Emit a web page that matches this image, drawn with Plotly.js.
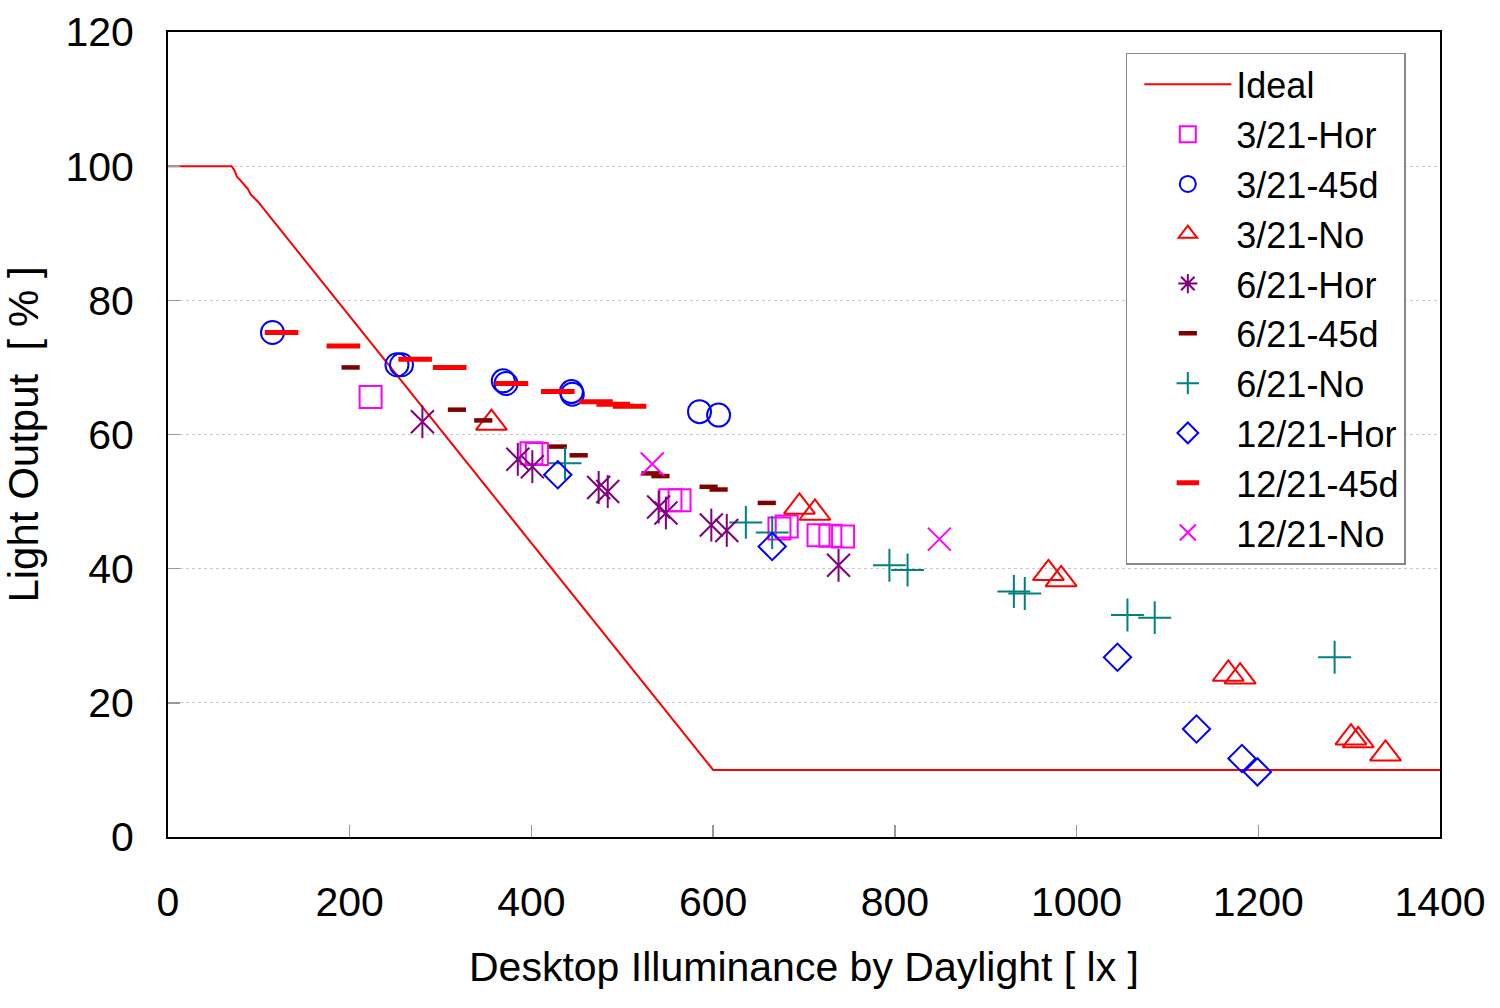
<!DOCTYPE html>
<html>
<head>
<meta charset="utf-8">
<script src="https://cdn.plot.ly/plotly-3.0.1.min.js"></script>
<style>html,body{margin:0;padding:0;background:#fff;}#chart{width:1500px;height:1008px;}</style>
</head>
<body>
<div id="chart"></div>
<script>
// ---- data ----
const idealX = [0, 70, 73, 76, 79, 84, 88, 91, 95, 99, 600, 1400];
const idealY = [100, 100, 99.4, 98.4, 98.0, 97.3, 96.6, 95.8, 95.2, 94.7, 10, 10];

const hor321X = [223, 400, 406, 553, 563, 673, 681, 716, 729, 743];
const hor321Y = [65.6, 57.2, 57.1, 50.2, 50.2, 46.0, 46.3, 45.0, 44.9, 44.8];

const d45_321X = [115, 252, 257, 369, 372, 444, 445, 585, 606];
const d45_321Y = [75.2, 70.4, 70.4, 68.0, 67.6, 66.4, 66.0, 63.4, 62.9];

const no321X = [356, 695, 712, 969, 983, 1167, 1180, 1302, 1310, 1340];
const no321Y = [61.7, 49.2, 48.3, 39.3, 38.4, 24.3, 23.9, 14.8, 14.4, 12.4];

const hor621X = [280, 385, 401, 474, 484, 540, 548, 598, 615, 738];
const hor621Y = [61.9, 56.3, 55.2, 52.1, 51.5, 49.2, 48.3, 46.5, 45.7, 40.5];

const d45_621X = [201, 318, 347, 429, 452, 531, 542, 595, 606, 659];
const d45_621Y = [70.0, 63.7, 62.1, 58.2, 56.9, 54.2, 53.8, 52.2, 51.8, 49.8];

const no621X = [437, 636, 665, 794, 814, 931, 943, 1056, 1086, 1284];
const no621Y = [55.7, 46.9, 45.4, 40.5, 39.8, 36.6, 36.3, 33.1, 32.7, 26.8];

const hor1221X = [429, 665, 1045, 1132, 1182, 1199];
const hor1221Y = [54.0, 43.3, 26.8, 16.1, 11.7, 9.7];

const d45_1221X = [125, 193, 272, 310, 378, 429, 471, 490, 508];
const d45_1221Y = [75.2, 73.2, 71.2, 70.0, 67.6, 66.4, 64.9, 64.5, 64.2];

const no1221X = [533, 849];
const no1221Y = [55.6, 44.4];

const xTicks = [0, 200, 400, 600, 800, 1000, 1200, 1400];
const yTicks = [0, 20, 40, 60, 80, 100, 120];

// ---- styling ----
const FONT = 'Liberation Sans, Arial, sans-serif';
const C_MAG = '#FF00FF', C_BLUE = '#0000FF', C_RED = '#FF0000',
      C_PUR = '#800080', C_DRED = '#800000', C_TEAL = '#008080';

function pts(x, y, name, symbol, color, size, lw, extra) {
  return Object.assign({
    type: 'scatter', mode: 'markers', x: x, y: y, name: name,
    marker: {symbol: symbol, size: size, color: color,
             line: {color: color, width: lw}},
    hoverinfo: 'x+y+name'
  }, extra || {});
}

const traces = [
  {type: 'scatter', mode: 'lines', x: idealX, y: idealY, name: 'Ideal',
   line: {color: C_RED, width: 2}},
  pts(hor321X, hor321Y, '3/21-Hor', 'square-open', C_MAG, 22, 2),
  pts(d45_321X, d45_321Y, '3/21-45d', 'circle-open', C_BLUE, 23, 2),
  pts(no321X, no321Y, '3/21-No', 'triangle-up-open', C_RED, 27, 2),
  // legend entry for 6/21-Hor (no points of its own)
  pts([null], [null], '6/21-Hor', 'asterisk-open', C_PUR, 20, 2),
  pts(d45_621X, d45_621Y, '6/21-45d', 'line-ew-open', C_DRED, 13, 4.5),
  pts(no621X, no621Y, '6/21-No', 'cross-thin-open', C_TEAL, 23.5, 2),
  pts(hor1221X, hor1221Y, '12/21-Hor', 'diamond-open', C_BLUE, 21, 2),
  pts(d45_1221X, d45_1221Y, '12/21-45d', 'line-ew-open', C_RED, 24, 5),
  pts(no1221X, no1221Y, '12/21-No', 'x-thin-open', C_MAG, 23, 2),
  // 6/21-Hor asterisk drawn as X + vertical stroke
  pts(hor621X, hor621Y, '6/21-Hor', 'x-thin-open', C_PUR, 23, 2, {showlegend: false, legendgroup: 'h621'}),
  pts(hor621X, hor621Y, '6/21-Hor', 'line-ns-open', C_PUR, 23.5, 2, {showlegend: false, legendgroup: 'h621', hoverinfo: 'skip'})
];

const layout = {
  width: 1500, height: 1008,
  margin: {l: 168, r: 60, t: 32, b: 171, pad: 0},
  paper_bgcolor: '#fff', plot_bgcolor: '#fff',
  font: {family: FONT, size: 40, color: '#000'},
  showlegend: true,
  xaxis: {
    range: [0, 1400], tickvals: xTicks, ticktext: xTicks.map(String),
    ticks: 'inside', ticklen: 12, tickwidth: 1.5, tickcolor: '#999',
    showline: true, linecolor: '#000', linewidth: 2, mirror: true,
    showgrid: false, zeroline: false,
    tickfont: {family: FONT, size: 41, color: '#000'},
    ticklabelstandoff: 28,
    title: {text: 'Desktop Illuminance by Daylight [ lx ]', font: {family: FONT, size: 41, color: '#000'}, standoff: 28}
  },
  yaxis: {
    range: [0, 120], tickvals: yTicks, ticktext: yTicks.map(String),
    ticks: 'inside', ticklen: 12, tickwidth: 1.5, tickcolor: '#999',
    showline: true, linecolor: '#000', linewidth: 2, mirror: true,
    showgrid: true, gridcolor: '#c8c8c8', gridwidth: 1, griddash: 'dot',
    zeroline: false,
    tickfont: {family: FONT, size: 41, color: '#000'},
    ticklabelstandoff: 24,
    title: {text: 'Light Output\u00a0\u00a0[ % ]', font: {family: FONT, size: 42, color: '#000'}, standoff: 18}
  },
  legend: {
    x: 0.753, y: 0.974, xanchor: 'left', yanchor: 'top',
    bgcolor: '#fff', bordercolor: '#888', borderwidth: 1.5,
    font: {family: FONT, size: 36, color: '#000'},
    itemwidth: 87, indentation: 12, tracegroupgap: 0
  }
};

Plotly.newPlot('chart', traces, layout, {displayModeBar: false, staticPlot: true});
</script>
</body>
</html>
